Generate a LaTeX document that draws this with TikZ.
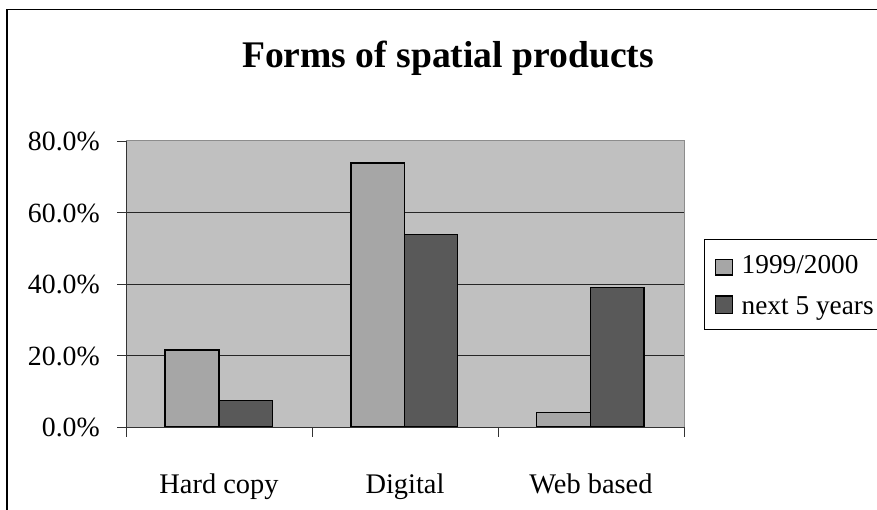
\documentclass[tikz,border=0pt]{standalone}
\usepackage{fontspec}
\setmainfont{Liberation Serif}
\usepackage{xcolor}
\definecolor{plotgray}{HTML}{C0C0C0}
\definecolor{barlight}{HTML}{A6A6A6}
\definecolor{bardark}{HTML}{595959}
\definecolor{edgegray}{HTML}{8C8C8C}
\usepackage{tikz}
\usetikzlibrary{positioning}

\begin{document}
\begin{tikzpicture}[
  x=1pt,y=-1pt,
  font=\fontsize{28}{32}\selectfont,
  lightbar/.style={draw=black,fill=barlight,line width=1.3pt},
  darkbar/.style={draw=black,fill=bardark,line width=1.3pt},
  gridline/.style={draw=black!85,line width=0.9pt},
  tickmark/.style={draw=black!80,line width=0.9pt},
  ylabel/.style={anchor=east,inner sep=0pt,font=\fontsize{27.8}{30}\selectfont},
  catlabel/.style={anchor=base,inner sep=0pt,font=\fontsize{28.4}{32}\selectfont},
  keytext/.style={anchor=base west,inner sep=0pt,font=\fontsize{27.3}{30}\selectfont}
]
\useasboundingbox (0,0) rectangle (877,510);
% chart frame
\draw[line width=1.4pt] (7,520) |- (890,9.5);
\node[anchor=base,inner sep=0pt,font=\fontsize{37.6}{42}\selectfont\bfseries]
  (title) at (448,68) {Forms of spatial products};
% plot area
\fill[plotgray] (126,141) rectangle (684,427);
\draw[edgegray,line width=1pt] (126,141) -- (684,141) -- (684,427);
\draw[gridline] (126,212.5) -- (684,212.5);
\draw[gridline] (126,284) -- (684,284);
\draw[gridline] (126,355.5) -- (684,355.5);
% bars
\draw[lightbar] (165,427) rectangle (219,350);
\draw[darkbar] (219,427) rectangle (272.5,400.5);
\draw[lightbar] (351,427) rectangle (404.5,163);
\draw[darkbar] (404.5,427) rectangle (457.5,234.5);
\draw[lightbar] (536.5,427) rectangle (590.5,412.3);
\draw[darkbar] (590.5,427) rectangle (644,287.7);
% axes
\draw[tickmark] (126,141) -- (126,427) -- (684,427);
\draw[tickmark] (117,141) -- (126,141);
\draw[tickmark] (117,212.5) -- (126,212.5);
\draw[tickmark] (117,284) -- (126,284);
\draw[tickmark] (117,355.5) -- (126,355.5);
\draw[tickmark] (117,427) -- (126,427);
\draw[tickmark] (126,427) -- (126,437);
\draw[tickmark] (312,427) -- (312,437);
\draw[tickmark] (498,427) -- (498,437);
\draw[tickmark] (684,427) -- (684,437);
\node[ylabel] (y80) at (100,141.5) {80.0\%};
\node[ylabel] (y60) at (100,213) {60.0\%};
\node[ylabel] (y40) at (100,284.5) {40.0\%};
\node[ylabel] (y20) at (100,356) {20.0\%};
\node[ylabel] (y0) at (100,427.5) {0.0\%};
\node[catlabel] (hard) at (219,493) {Hard copy};
\node[catlabel] (digital) at (405,493) {Digital};
\node[catlabel] (web) at (591,493) {Web based};
% legend
\draw[line width=1pt] (704,240) rectangle (890,329);
\draw[fill=barlight,line width=1.2pt] (715.5,259.5) rectangle (732.5,275);
\node[keytext] (k1) at (741.5,273.3) {1999/2000};
\draw[fill=bardark,line width=1.2pt] (715.5,296) rectangle (732.5,313.5);
\node[keytext] (k2) at (741.5,314) {next 5 years};
\end{tikzpicture}
\end{document}
